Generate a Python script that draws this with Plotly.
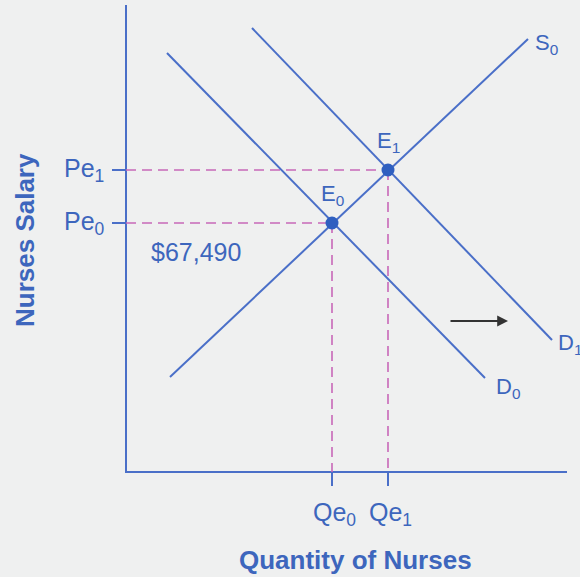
import plotly.graph_objects as go

# Coordinates in diagram units (x: quantity, y: salary; drawn on a 580x577 canvas, y downward)
d0_x = [167, 485]
d0_y = [53, 378]
d1_x = [252, 552]
d1_y = [28, 340]
s0_x = [170, 528]
s0_y = [377, 39]
eq_x = [332, 388]
eq_y = [223, 170]
eq_labels = ["E<sub>0</sub>", "E<sub>1</sub>"]
price_labels = ["Pe<sub>0</sub>", "Pe<sub>1</sub>"]
qty_labels = ["Qe<sub>0</sub>", "Qe<sub>1</sub>"]
axis_origin = [126, 472]
axis_x_end = 567
axis_y_end = 5
salary_note = "$67,490"

BLUE = "#4a6fc8"
TEXT = "#3d66bd"
PINK = "#c868b8"
FONT = "Liberation Sans, Arial, sans-serif"

fig = go.Figure()
ox, oy = axis_origin

# axes
fig.add_trace(go.Scatter(x=[ox, ox, axis_x_end], y=[axis_y_end, oy, oy], mode="lines",
                         line=dict(color=BLUE, width=2), hoverinfo="skip"))
# dashed guides
for ex, ey in zip(eq_x, eq_y):
    fig.add_trace(go.Scatter(x=[ox, ex], y=[ey, ey], mode="lines",
                             line=dict(color=PINK, width=1.6, dash="10px,6px"), hoverinfo="skip"))
    fig.add_trace(go.Scatter(x=[ex, ex], y=[ey, oy], mode="lines",
                             line=dict(color=PINK, width=1.6, dash="10px,6px"), hoverinfo="skip"))
    # ticks
    fig.add_trace(go.Scatter(x=[ox - 14, ox], y=[ey, ey], mode="lines",
                             line=dict(color=BLUE, width=2), hoverinfo="skip"))
    fig.add_trace(go.Scatter(x=[ex, ex], y=[oy, oy + 14], mode="lines",
                             line=dict(color=BLUE, width=2), hoverinfo="skip"))
# curves
for cx, cy in [(d0_x, d0_y), (d1_x, d1_y), (s0_x, s0_y)]:
    fig.add_trace(go.Scatter(x=cx, y=cy, mode="lines", line=dict(color=BLUE, width=2),
                             hoverinfo="skip"))
# equilibrium points
fig.add_trace(go.Scatter(x=eq_x, y=eq_y, mode="markers",
                         marker=dict(color="#2f5fc0", size=13), hoverinfo="skip"))

ann = []
def label(x, y, text, size=20, bold=False, angle=0, xanchor="center"):
    t = f"<b>{text}</b>" if bold else text
    ann.append(dict(x=x, y=y, xref="x", yref="y", text=t, showarrow=False,
                    font=dict(family=FONT, size=size, color=TEXT), textangle=angle,
                    xanchor=xanchor, yanchor="middle"))

for ex, ey, el, pl, ql in zip(eq_x, eq_y, eq_labels, price_labels, qty_labels):
    label(ex, ey - 28, el, size=22)
    label(84, ey, pl, size=25)
    label(ex + 2, oy + 42, ql, size=25)
label(196, 252, salary_note, size=25)
label(546, 44, "S<sub>0</sub>", size=22)
label(508, 388, "D<sub>0</sub>", size=22)
label(570, 344, "D<sub>1</sub>", size=22)
label(355, 560, "Quantity of Nurses", size=26, bold=True)
label(25, 240, "Nurses Salary", size=26, bold=True, angle=-90)

# shift arrow
ann.append(dict(x=508, y=321, ax=449, ay=321, xref="x", yref="y", axref="x", ayref="y",
                text="", showarrow=True, arrowhead=2, arrowsize=1.2, arrowwidth=1.8,
                arrowcolor="#333333"))

fig.update_layout(
    width=580, height=577, margin=dict(l=0, r=0, t=0, b=0),
    paper_bgcolor="#eff0f0", plot_bgcolor="#eff0f0", showlegend=False,
    xaxis=dict(range=[0, 580], visible=False, fixedrange=True),
    yaxis=dict(range=[577, 0], visible=False, fixedrange=True),
    annotations=ann,
)
fig.write_html("out.html", config={"displayModeBar": False})

# remove the default page margin so the figure sits at the window's top-left corner
with open("out.html", "r", encoding="utf-8") as f:
    html = f.read()
html = html.replace("<head>", "<head><style>html,body{margin:0;padding:0;background:#eff0f0;overflow:hidden}</style>", 1)
with open("out.html", "w", encoding="utf-8") as f:
    f.write(html)
